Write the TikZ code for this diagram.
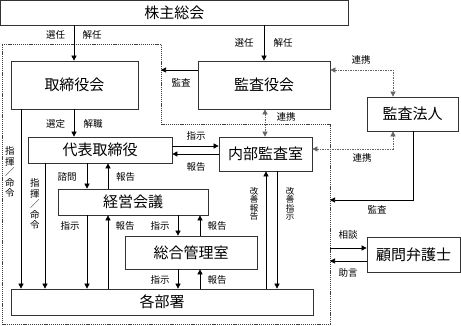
\documentclass[tikz,border=0pt]{standalone}
\usepackage{fontspec}
\setmainfont{Noto Sans CJK JP}
\usetikzlibrary{arrows.meta}
\begin{document}
\begin{tikzpicture}[x=1pt,y=-1pt,
  box/.style={draw=black!80,line width=0.7pt,inner sep=0pt,font=\fontsize{15}{15}\selectfont},
  arr/.style={line width=0.6pt,-{Triangle[length=5pt,width=5pt]}},
  darr/.style={draw=black!60,line width=0.6pt,dash pattern=on 1.5pt off 1pt,{Triangle[length=5pt,width=5pt]}-{Triangle[length=5pt,width=5pt]}},
  bound/.style={draw=black!75,line width=0.6pt,dash pattern=on 1.2pt off 0.9pt},
  lbl/.style={font=\fontsize{9.5}{9.5}\selectfont,inner sep=0pt},
  vlbl/.style={font=\fontsize{9.5}{10.5}\selectfont,inner sep=0pt,align=center},
  vlbls/.style={font=\fontsize{8.5}{8.5}\selectfont,inner sep=0pt,align=center}]
\useasboundingbox (0,0) rectangle (461,326);
\fill[white] (0,0) rectangle (461,326);
% boundary
\draw[bound] (2,44) -- (161,44) -- (161,124) -- (330,124) -- (330,324) -- (2,324) -- cycle;
% boxes
\node[box,minimum width=347.5,minimum height=24.5] (kabu) at (174.25,12.75) {株主総会};
\node[box,minimum width=127,minimum height=48] (tori) at (74.5,85) {取締役会};
\node[box,minimum width=132,minimum height=48] (kansa) at (264,85) {監査役会};
\node[box,minimum width=91,minimum height=34] (houjin) at (412.5,114) {監査法人};
\node[box,minimum width=93,minimum height=34] (naibu) at (265.5,154) {内部監査室};
\node[box,minimum width=144,minimum height=26] (daihyo) at (100,150) {代表取締役};
\node[box,minimum width=150,minimum height=26] (keiei) at (133,202) {経営会議};
\node[box,minimum width=132,minimum height=33] (sogo) at (191,252.5) {総合管理室};
\node[box,minimum width=302,minimum height=26] (kakubu) at (162,302) {各部署};
\node[box,minimum width=93,minimum height=35] (komon) at (413.5,254.5) {顧問弁護士};
% column / row helpers
\coordinate (c21) at (21,0);
\coordinate (c45) at (45,0);
\coordinate (c74) at (74,0);
\coordinate (c87) at (87,0);
\coordinate (c108) at (108,0);
\coordinate (c178) at (178,0);
\coordinate (c200) at (200,0);
\coordinate (c264) at (264,0);
\coordinate (c265) at (265,0);
\coordinate (c266) at (266,0);
\coordinate (c277) at (277,0);
\coordinate (c393) at (393,0);
\coordinate (c413) at (413,0);
\coordinate (r70) at (0,70);
\coordinate (r146) at (0,146);
\coordinate (r149) at (0,149);
\coordinate (r154) at (0,154);
\coordinate (r200) at (0,200);
\coordinate (r248) at (0,248);
\coordinate (r261) at (0,261);
\coordinate (bL) at (161,70);
\coordinate (bR1) at (330,200);
\coordinate (bR2) at (330,248);
\coordinate (bR3) at (330,261);
% connectors
\draw[arr] (kabu.south -| c74) -- (tori.north -| c74);
\draw[arr] (kabu.south -| c264) -- (kansa.north -| c264);
\draw[arr] (kansa.west |- r70) -- (bL);
\draw[darr] (kansa.east |- r70) -- (c393 |- r70) -- (houjin.north -| c393);
\draw[darr] (kansa.south -| c265) -- (naibu.north -| c265);
\draw[darr] (naibu.east |- r149) -- (c393 |- r149) -- (houjin.south -| c393);
\draw[arr] (houjin.south -| c413) -- (c413 |- r200) -- (bR1);
\draw[arr] (tori.south -| c74) -- (daihyo.north -| c74);
\draw[arr] (daihyo.east |- r146) -- (naibu.west |- r146);
\draw[arr] (naibu.west |- r154) -- (daihyo.east |- r154);
\draw[arr] (tori.south -| c21) -- (kakubu.north -| c21);
\draw[arr] (daihyo.south -| c45) -- (kakubu.north -| c45);
\draw[arr] (daihyo.south -| c87) -- (keiei.north -| c87);
\draw[arr] (keiei.north -| c108) -- (daihyo.south -| c108);
\draw[arr] (keiei.south -| c87) -- (kakubu.north -| c87);
\draw[arr] (kakubu.north -| c108) -- (keiei.south -| c108);
\draw[arr] (keiei.south -| c178) -- (sogo.north -| c178);
\draw[arr] (sogo.north -| c200) -- (keiei.south -| c200);
\draw[arr] (sogo.south -| c178) -- (kakubu.north -| c178);
\draw[arr] (kakubu.north -| c200) -- (sogo.south -| c200);
\draw[arr] (kakubu.north -| c266) -- (naibu.south -| c266);
\draw[arr] (naibu.south -| c277) -- (kakubu.north -| c277);
\draw[arr] (bR2) -- (komon.west |- r248);
\draw[arr] (komon.west |- r261) -- (bR3);
% labels
\node[lbl] (l1) at (55.5,35) {選任};
\node[lbl] (l2) at (92,35) {解任};
\node[lbl] (l3) at (244,43) {選任};
\node[lbl] (l4) at (283,43) {解任};
\node[lbl] (l5) at (181,83) {監査};
\node[lbl] (l6) at (361,60) {連携};
\node[lbl] (l7) at (286,117) {連携};
\node[lbl] (l8) at (55.5,124) {選定};
\node[lbl] (l9) at (93,124) {解職};
\node[lbl] (l10) at (196,136) {指示};
\node[lbl] (l11) at (196,167) {報告};
\node[lbl] (l12) at (362,158) {連携};
\node[lbl] (l13) at (377,210) {監査};
\node[lbl] (l14) at (67,177) {諮問};
\node[lbl] (l15) at (125.5,177) {報告};
\node[lbl] (l16) at (70,226) {指示};
\node[lbl] (l17) at (125,226) {報告};
\node[lbl] (l18) at (160,226) {指示};
\node[lbl] (l19) at (217,226) {報告};
\node[lbl] (l20) at (160,280) {指示};
\node[lbl] (l21) at (217,280) {報告};
\node[lbl] (l22) at (348,235) {相談};
\node[lbl] (l23) at (348,273) {助言};
\node[vlbl] (v1) at (10,172) {指\\揮\\／\\命\\令};
\node[vlbl] (v2) at (35,204) {指\\揮\\／\\命\\令};
\node[vlbls] (v3) at (254,204) {改\\善\\報\\告};
\node[vlbls] (v4) at (290,204) {改\\善\\指\\示};
\end{tikzpicture}
\end{document}
